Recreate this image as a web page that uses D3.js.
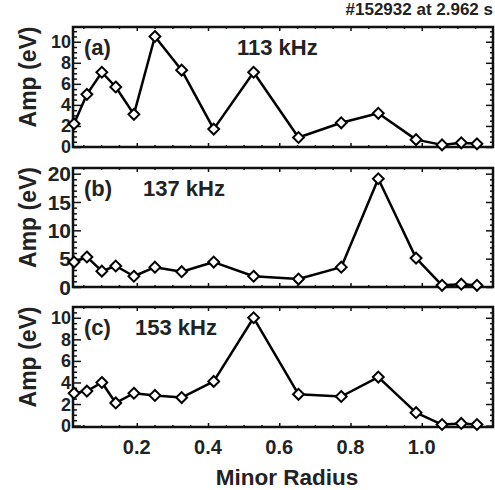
<!DOCTYPE html>
<html>
<head>
<meta charset="utf-8">
<script src="https://cdn.jsdelivr.net/npm/d3@7/dist/d3.min.js"></script>
<style>
  html, body { margin: 0; padding: 0; background: #fff; }
  svg { display: block; }
  text { font-family: "Liberation Sans", Arial, sans-serif; font-weight: bold; fill: #222; }
</style>
</head>
<body>
<svg id="chart" width="495" height="490"></svg>
<script>
// Minor radius of each measurement channel
const radius = [0.024, 0.060, 0.102, 0.141, 0.192, 0.251, 0.326, 0.416,
                0.528, 0.654, 0.774, 0.878, 0.984, 1.057, 1.111, 1.155];

// Mode amplitude (eV) per channel for each frequency
const amp113 = [2.2, 5.0, 7.1, 5.7, 3.1, 10.5, 7.3, 1.7,
                7.1, 0.9, 2.3, 3.2, 0.7, 0.2, 0.4, 0.3];
const amp137 = [4.4, 5.3, 2.8, 3.7, 1.9, 3.5, 2.7, 4.4,
                1.9, 1.4, 3.5, 19.1, 5.1, 0.3, 0.5, 0.3];
const amp153 = [3.0, 3.2, 4.0, 2.1, 3.0, 2.8, 2.6, 4.1,
                10.0, 2.9, 2.7, 4.5, 1.2, 0.1, 0.2, 0.1];

const panelTags = ["(a)", "(b)", "(c)"];
const panelFreqs = ["113 kHz", "137 kHz", "153 kHz"];
const yTicksA = [0, 2, 4, 6, 8, 10];
const yTicksB = [0, 5, 10, 15, 20];
const yTicksC = [0, 2, 4, 6, 8, 10];
const xTicks = [0.2, 0.4, 0.6, 0.8, 1.0];
const shotTitle = "#152932 at 2.962 s";
const xTitle = "Minor Radius";
const yTitle = "Amp (eV)";

const svg = d3.select("#chart");
const left = 73, right = 493;

const x = d3.scaleLinear().domain([0.021, 1.2]).range([left, right]);

const panels = [
  { top: 27,  bottom: 147, domain: [0, 11.4],     ticks: yTicksA, minor: 0.5, data: amp113, freqX: 237, labSize: 18 },
  { top: 168, bottom: 287, domain: [0, 21],       ticks: yTicksB, minor: 1,   data: amp137, freqX: 143, labSize: 21 },
  { top: 307, bottom: 427, domain: [-0.13, 11.0], ticks: yTicksC, minor: 0.5, data: amp153, freqX: 135, labSize: 18 }
];

const xMinor = d3.range(0.05, 1.2, 0.05).filter(v => v > 0.021);

panels.forEach((p, i) => {
  const y = d3.scaleLinear().domain(p.domain).range([p.bottom, p.top]);
  const g = svg.append("g");

  const yMinor = d3.range(Math.ceil(p.domain[0] / p.minor) * p.minor, p.domain[1], p.minor);
  const majorSet = new Set(p.ticks.map(v => +v.toFixed(3)));
  const yMinorOnly = yMinor.filter(v => !majorSet.has(+v.toFixed(3)));
  const xMajorSet = new Set(xTicks.map(v => +v.toFixed(3)));
  const xMinorOnly = xMinor.filter(v => !xMajorSet.has(+v.toFixed(3)));

  // left axis
  const yl = g.append("g").attr("transform", `translate(${left},0)`)
    .call(d3.axisRight(y).tickValues(p.ticks).tickSize(8).tickFormat(""));
  const ylm = g.append("g").attr("transform", `translate(${left},0)`)
    .call(d3.axisRight(y).tickValues(yMinorOnly).tickSize(4).tickFormat(""));
  // right axis
  const yr = g.append("g").attr("transform", `translate(${right},0)`)
    .call(d3.axisLeft(y).tickValues(p.ticks).tickSize(7).tickFormat(""));
  const yrm = g.append("g").attr("transform", `translate(${right},0)`)
    .call(d3.axisLeft(y).tickValues(yMinorOnly).tickSize(3).tickFormat(""));
  // bottom and top axes
  const xb = g.append("g").attr("transform", `translate(0,${p.bottom})`)
    .call(d3.axisTop(x).tickValues(xTicks).tickSize(4).tickFormat(""));
  const xbm = g.append("g").attr("transform", `translate(0,${p.bottom})`)
    .call(d3.axisTop(x).tickValues(xMinorOnly).tickSize(2).tickFormat(""));
  const xt = g.append("g").attr("transform", `translate(0,${p.top})`)
    .call(d3.axisBottom(x).tickValues(xTicks).tickSize(4).tickFormat(""));
  const xtm = g.append("g").attr("transform", `translate(0,${p.top})`)
    .call(d3.axisBottom(x).tickValues(xMinorOnly).tickSize(2).tickFormat(""));

  [yl, ylm, yr, yrm, xb, xbm, xt, xtm].forEach(a => {
    a.select(".domain").remove();
    a.selectAll(".tick line").attr("stroke", "#111").attr("stroke-width", 1.5);
  });

  // frame
  g.append("rect")
    .attr("x", left).attr("y", p.top)
    .attr("width", right - left).attr("height", p.bottom - p.top)
    .attr("fill", "none").attr("stroke", "#111").attr("stroke-width", 2.5);

  // y tick labels
  g.selectAll("text.ylab").data(p.ticks).join("text")
    .attr("class", "ylab")
    .attr("x", 71).attr("y", d => y(d))
    .attr("dy", "0.36em")
    .attr("text-anchor", "end")
    .style("font-size", p.labSize + "px")
    .text(d => d);

  // y title
  const cy = (p.top + p.bottom) / 2 - 10;
  g.append("text")
    .attr("transform", `translate(36,${cy}) rotate(-90)`)
    .attr("text-anchor", "middle")
    .style("font-size", "23px")
    .text(yTitle);

  // series line and markers
  const pts = radius.map((r, k) => [r, p.data[k]]);
  g.append("path")
    .datum(pts)
    .attr("d", d3.line().x(d => x(d[0])).y(d => y(d[1])))
    .attr("fill", "none").attr("stroke", "#000").attr("stroke-width", 2.5)
    .attr("stroke-linejoin", "round");
  g.selectAll("path.mk").data(pts).join("path")
    .attr("class", "mk")
    .attr("d", d3.symbol().type(d3.symbolDiamond2).size(75))
    .attr("transform", d => `translate(${x(d[0])},${y(d[1])})`)
    .attr("fill", "#fff").attr("stroke", "#000").attr("stroke-width", 2);

  // panel tag and frequency
  const ty = p.top + 20;
  g.append("text").attr("x", 84).attr("y", ty).attr("dy", "0.36em")
    .style("font-size", "22px").text(panelTags[i]);
  g.append("text").attr("x", p.freqX).attr("y", ty).attr("dy", "0.36em")
    .style("font-size", "22px").text(panelFreqs[i]);
});

// x tick labels on the bottom panel
svg.selectAll("text.xlab").data(xTicks).join("text")
  .attr("class", "xlab")
  .attr("x", d => x(d)).attr("y", 447).attr("dy", "0.36em")
  .attr("text-anchor", "middle")
  .style("font-size", "20px")
  .text(d => d.toFixed(1));

svg.append("text")
  .attr("x", 287).attr("y", 477).attr("dy", "0.36em")
  .attr("text-anchor", "middle")
  .style("font-size", "22.5px")
  .text(xTitle);

svg.append("text")
  .attr("x", 493).attr("y", 15)
  .attr("text-anchor", "end")
  .style("font-size", "17px")
  .text(shotTitle);
</script>
</body>
</html>
